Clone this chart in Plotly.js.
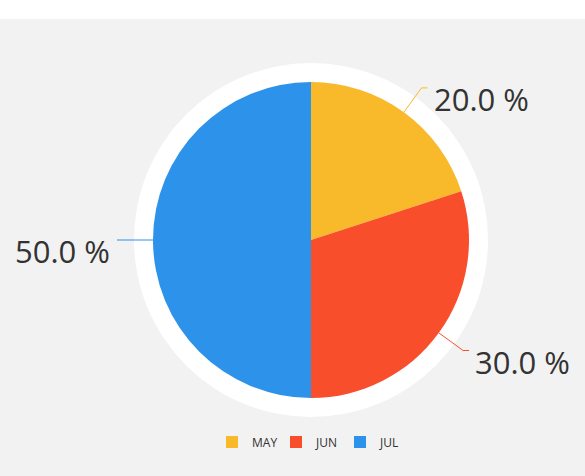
<!DOCTYPE html>
<html>
<head>
<meta charset="utf-8">
<script src="https://cdn.plot.ly/plotly-3.0.1.min.js"></script>
<style>
html,body{margin:0;padding:0;background:#ffffff;}
#chart{position:absolute;left:0;top:19px;width:585px;height:457px;}
</style>
</head>
<body>
<div id="chart"></div>
<script>
const labels = ["MAY", "JUN", "JUL"];
const values = [20, 30, 50];
const colors = ["#F8B92B", "#F94E2C", "#2C92EA"];

const W = 585, H = 457;
const cx = 311, cy = 221, R = 158, RING = 177;

function px2paperX(px){ return px / W; }
function px2paperY(py){ return 1 - py / H; }

const pieTrace = {
  type: "pie",
  labels: labels,
  values: values,
  sort: false,
  direction: "clockwise",
  rotation: 0,
  textinfo: "none",
  hoverinfo: "label+percent",
  marker: { colors: colors, line: { width: 0 } },
  domain: { x: [px2paperX(cx - R), px2paperX(cx + R)], y: [px2paperY(cy + R), px2paperY(cy - R)] },
  showlegend: true
};

const ringTrace = {
  type: "pie",
  labels: ["ring"],
  values: [1],
  textinfo: "none",
  hoverinfo: "skip",
  showlegend: false,
  marker: { colors: ["#ffffff"], line: { width: 0 } },
  domain: { x: [px2paperX(cx - RING), px2paperX(cx + RING)], y: [px2paperY(cy + RING), px2paperY(cy - RING)] }
};

const total = values.reduce((a, b) => a + b, 0);
const shapes = [];
const annotations = [];
let cum = 0;
values.forEach((v, i) => {
  const mid = (cum + v / 2) / total * 2 * Math.PI;
  cum += v;
  const s = Math.sin(mid), c = Math.cos(mid);
  const x0 = cx + R * s, y0 = cy - R * c;
  const r1 = R + 30;
  const x1 = cx + r1 * s, y1 = cy - r1 * c;
  const right = s >= 0;
  const x2 = x1 + (right ? 6 : -6);
  shapes.push({
    type: "path",
    xref: "paper", yref: "paper",
    path: "M " + px2paperX(x0) + " " + px2paperY(y0) + " L " + px2paperX(x1) + " " + px2paperY(y1) + " L " + px2paperX(x2) + " " + px2paperY(y1),
    line: { color: colors[i], width: 1 }
  });
  const pct = (v / total * 100).toFixed(1) + " %";
  annotations.push({
    xref: "paper", yref: "paper",
    x: px2paperX(x2 + (right ? 4 : -5)),
    y: px2paperY(y1 + 11),
    xanchor: right ? "left" : "right",
    yanchor: "middle",
    text: pct,
    showarrow: false,
    font: { family: "Open Sans, sans-serif", size: 31, color: "#333333" }
  });
});

const layout = {
  width: W, height: H,
  margin: { l: 0, r: 0, t: 0, b: 0 },
  paper_bgcolor: "#f2f2f2",
  plot_bgcolor: "#f2f2f2",
  showlegend: true,
  legend: {
    orientation: "h",
    x: 212 / W, xanchor: "left",
    y: px2paperY(423), yanchor: "middle",
    entrywidth: 19,
    font: { family: "Open Sans, sans-serif", size: 12, color: "#333333" },
    bgcolor: "rgba(0,0,0,0)"
  },
  shapes: shapes,
  annotations: annotations
};

Plotly.newPlot("chart", [ringTrace, pieTrace], layout, { displayModeBar: false });
</script>
</body>
</html>
